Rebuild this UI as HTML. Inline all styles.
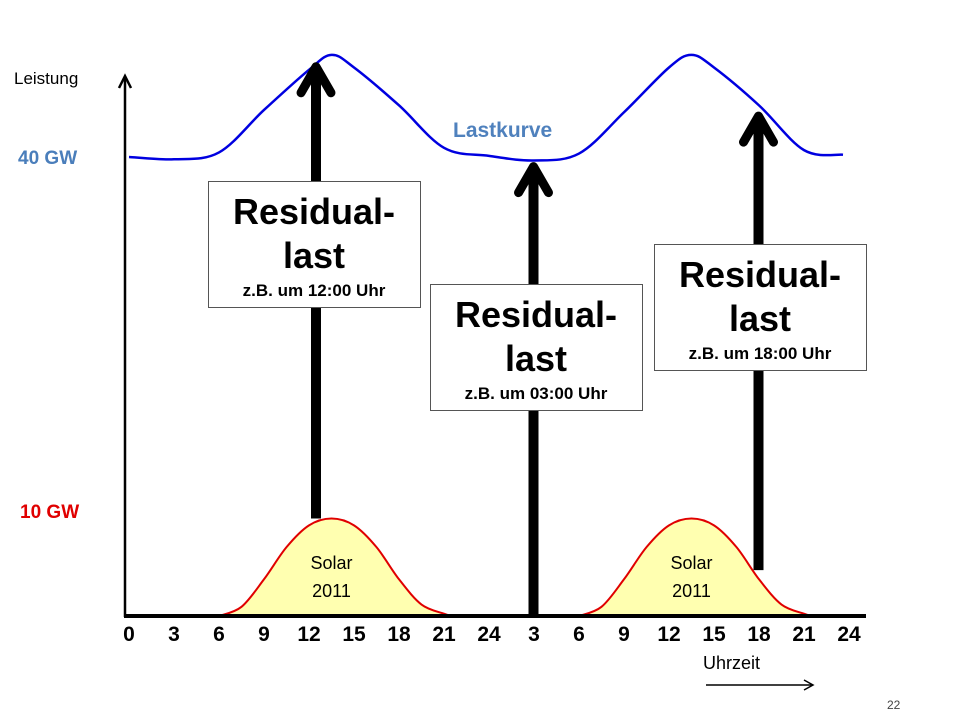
<!DOCTYPE html>
<html><head><meta charset="utf-8"><style>
html,body{margin:0;padding:0;background:#fff;width:960px;height:720px;overflow:hidden}
svg text{font-family:"Liberation Sans",sans-serif}
</style></head><body>
<svg id="c" width="960" height="720" viewBox="0 0 960 720" xmlns="http://www.w3.org/2000/svg">
<g id="solar"></g>
<path id="load" fill="none" stroke="#0000e0" stroke-width="2.5"/>
<g id="axes">
<line x1="125" y1="617" x2="125" y2="78" stroke="#000" stroke-width="2.5"/>
<polyline points="119,88 125,76 131,88" fill="none" stroke="#000" stroke-width="2.5"/>
<line x1="124" y1="616" x2="866" y2="616" stroke="#000" stroke-width="4"/>
</g>
<g id="ticks"></g>
<g id="arrows"></g>
<text x="14" y="84" font-size="17" fill="#000">Leistung</text>
<text x="18" y="164" font-size="19" font-weight="bold" fill="#4a7ebb">40 GW</text>
<text x="20" y="518" font-size="19" font-weight="bold" fill="#e00000">10 GW</text>
<text x="453" y="137" font-size="21" font-weight="bold" fill="#4f81bd">Lastkurve</text>
<text x="703" y="669" font-size="18" fill="#000">Uhrzeit</text>
<line x1="706" y1="685" x2="812" y2="685" stroke="#000" stroke-width="1.5"/>
<polyline points="804,680 813,685 804,690" fill="none" stroke="#000" stroke-width="1.5"/>
<text x="887" y="709" font-size="12" fill="#444">22</text>
<g id="boxes"></g>
</svg>
<script>
const loadHours=[0,3,6,9,12,13.5,15,18,21,24,27,30,33,36,37.5,39,42,45,47.6];
const loadGW=[40.0,39.8,40.4,44.1,47.6,48.9,47.8,44.5,40.8,40.1,39.7,40.3,43.9,47.8,48.9,47.8,44.5,40.6,40.2];
const solarHours=[6,7.5,9,10.5,12,13.5,15,16.5,18,19.5,21,21.5];
const solarGW=[0,0.8,3.2,6.0,7.9,8.5,7.9,6.0,3.2,1.0,0.2,0];
const solarDays=[0,24];
const tickLabels=["0","3","6","9","12","15","18","21","24","3","6","9","12","15","18","21","24"];
const arrowHours=[12.5,27,42];
const arrowBaseGW=[8.5,0,4.0];
const arrowTopGW=[48.3,39.6,44.0];
const boxTimes=["12:00","03:00","18:00"];
const X=h=>129+15*h, Y=g=>616-11.475*g;
const NS="http://www.w3.org/2000/svg";
function mk(t,a,p){const e=document.createElementNS(NS,t);for(const k in a)e.setAttribute(k,a[k]);p.appendChild(e);return e;}
function smooth(pts){let d="M"+pts[0][0]+","+pts[0][1];for(let i=0;i<pts.length-1;i++){const p0=pts[i-1]||pts[i],p1=pts[i],p2=pts[i+1],p3=pts[i+2]||p2;d+=" C"+(p1[0]+(p2[0]-p0[0])/6)+","+(p1[1]+(p2[1]-p0[1])/6)+" "+(p2[0]-(p3[0]-p1[0])/6)+","+(p2[1]-(p3[1]-p1[1])/6)+" "+p2[0]+","+p2[1];}return d;}
document.getElementById('load').setAttribute('d',smooth(loadHours.map((h,i)=>[X(h),Y(loadGW[i])])));
const sg=document.getElementById('solar');
solarDays.forEach((o,k)=>{
 const pts=solarHours.map((h,i)=>[X(h+o),Y(solarGW[i])]);
 const p=mk('path',{d:smooth(pts)+" Z",fill:"#ffffb0",stroke:"#e00000","stroke-width":"2"},sg);
 
 
 const c=X(13.5+o);
 const t1=mk('text',{x:c,y:569,"font-size":"18","text-anchor":"middle",fill:"#000"},sg);t1.textContent="Solar";
 
 
 const t2=mk('text',{x:c,y:597,"font-size":"18","text-anchor":"middle",fill:"#000"},sg);t2.textContent="2011";
 
 
});
const tg=document.getElementById('ticks');
tickLabels.forEach((l,i)=>{const t=mk('text',{x:X(i*3),y:641,"font-size":"21","font-weight":"bold","text-anchor":"middle",fill:"#000"},tg);t.textContent=l;
 
 });
const ag=document.getElementById('arrows');
arrowHours.forEach((h,i)=>{const x=X(h)-0.5,yb=Y(arrowBaseGW[i]),yt=Y(arrowTopGW[i]);
 const l=mk('line',{x1:x,y1:yb,x2:x,y2:yt+6,stroke:"#000","stroke-width":"10"},ag);
 
 
 const hd=mk('polyline',{points:(x-15)+","+(yt+31)+" "+x+","+(yt+5)+" "+(x+15)+","+(yt+31),fill:"none",stroke:"#000","stroke-width":"9","stroke-linecap":"round","stroke-linejoin":"round"},ag);
 
 });
const bx=[[208,181],[430,284],[654,244]];
const bg=document.getElementById('boxes');
bx.forEach((b,i)=>{const g=mk('g',{},bg);
 
 
 mk('rect',{x:b[0]+0.5,y:b[1]+0.5,width:212,height:126,fill:"#fff",stroke:"#555","stroke-width":"1"},g);
 const cx=b[0]+106;
 const a=mk('text',{x:cx,y:b[1]+43,"font-size":"36","font-weight":"bold","text-anchor":"middle"},g);a.textContent="Residual-";
 const c=mk('text',{x:cx,y:b[1]+87,"font-size":"36","font-weight":"bold","text-anchor":"middle"},g);c.textContent="last";
 const d=mk('text',{x:cx,y:b[1]+115,"font-size":"17","font-weight":"bold","text-anchor":"middle"},g);d.textContent="z.B. um "+boxTimes[i]+" Uhr";});
</script>
</body></html>
